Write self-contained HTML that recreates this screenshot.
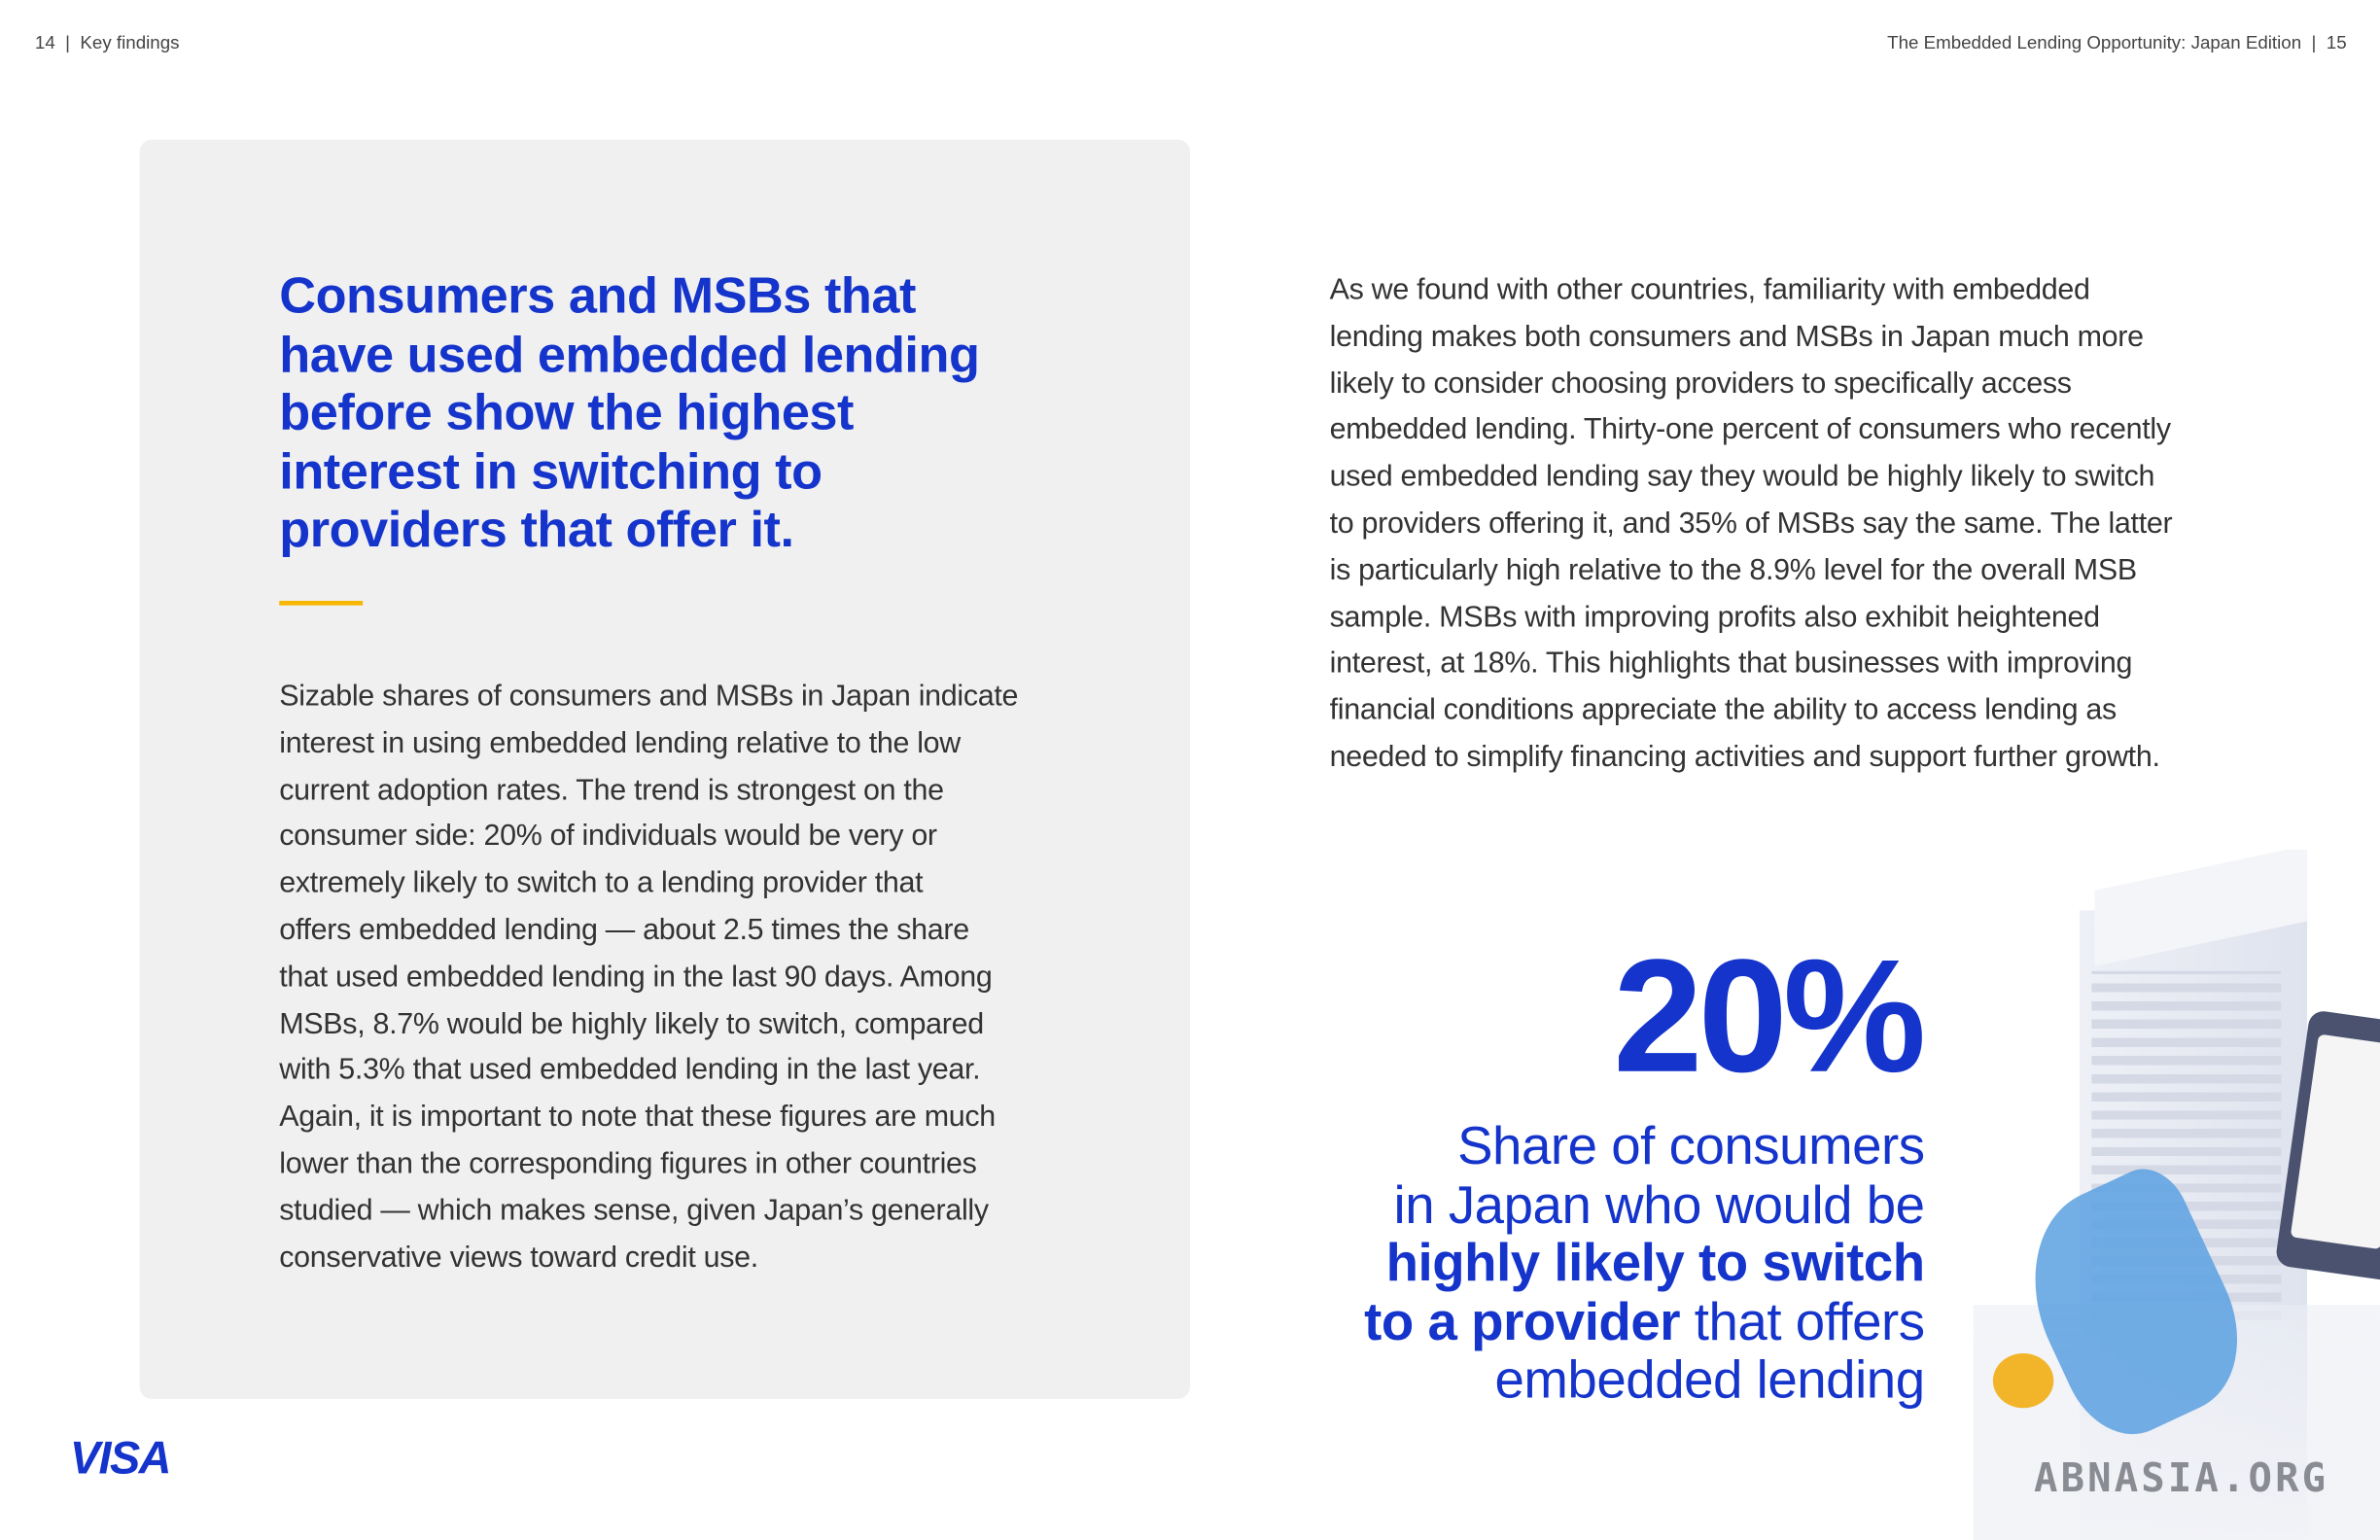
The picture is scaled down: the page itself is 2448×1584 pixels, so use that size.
<!DOCTYPE html>
<html><head><meta charset="utf-8">
<style>
html,body{margin:0;padding:0;background:#fff;overflow:hidden;width:2448px;height:1584px}
#page{position:absolute;left:0;top:0;width:1568px;height:1015px;transform-origin:0 0;transform:scale(1.56122,1.56059);font-family:"Liberation Sans",sans-serif;color:#333}
.abs{position:absolute}
.hdr{font-size:12px;color:#444;top:21px}
#box{left:92px;top:92px;width:692px;height:830px;background:#f0f0f1;border-radius:8px}
h1{position:absolute;left:184px;top:177px;margin:0;font-size:33.5px;line-height:38.6px;font-weight:bold;color:#1434cb;letter-spacing:-0.3px;white-space:nowrap}
.para{font-size:19.5px;line-height:30.8px;color:#333;letter-spacing:-0.2px;white-space:nowrap}
.big{right:302px;top:610px;font-size:106px;font-weight:bold;color:#1434cb;letter-spacing:-3px;line-height:120px}
.sub{right:300px;top:737px;font-size:35px;line-height:38.5px;color:#1434cb;text-align:right;letter-spacing:-0.3px}
.sub b{font-weight:bold}
</style></head><body>
<div id="page">
<div class="abs hdr" style="left:23px">14&nbsp;&nbsp;|&nbsp;&nbsp;Key findings</div>
<div class="abs hdr" style="right:22px">The Embedded Lending Opportunity: Japan Edition&nbsp;&nbsp;|&nbsp;&nbsp;15</div>

<div id="box" class="abs"></div>
<h1>Consumers and MSBs that<br>have used embedded lending<br>before show the highest<br>interest in switching to<br>providers that offer it.</h1>
<div class="abs" style="left:184px;top:396px;width:55px;height:3px;background:#f7b600"></div>
<div class="abs para" style="left:184px;top:444px">Sizable shares of consumers and MSBs in Japan indicate<br>interest in using embedded lending relative to the low<br>current adoption rates. The trend is strongest on the<br>consumer side: 20% of individuals would be very or<br>extremely likely to switch to a lending provider that<br>offers embedded lending — about 2.5 times the share<br>that used embedded lending in the last 90 days. Among<br>MSBs, 8.7% would be highly likely to switch, compared<br>with 5.3% that used embedded lending in the last year.<br>Again, it is important to note that these figures are much<br>lower than the corresponding figures in other countries<br>studied — which makes sense, given Japan’s generally<br>conservative views toward credit use.</div>

<div class="abs para" style="left:876px;top:176px">As we found with other countries, familiarity with embedded<br>lending makes both consumers and MSBs in Japan much more<br>likely to consider choosing providers to specifically access<br>embedded lending. Thirty-one percent of consumers who recently<br>used embedded lending say they would be highly likely to switch<br>to providers offering it, and 35% of MSBs say the same. The latter<br>is particularly high relative to the 8.9% level for the overall MSB<br>sample. MSBs with improving profits also exhibit heightened<br>interest, at 18%. This highlights that businesses with improving<br>financial conditions appreciate the ability to access lending as<br>needed to simplify financing activities and support further growth.</div>

<!-- illustration -->
<div class="abs" style="left:1300px;top:560px;width:268px;height:455px;overflow:hidden">
  <div class="abs" style="left:70px;top:40px;width:150px;height:420px;background:linear-gradient(90deg,#eef0f6,#dfe3ee)"></div>
  <div class="abs" style="left:80px;top:12px;width:140px;height:50px;background:#f4f5f9;transform:skewY(-12deg)"></div>
  <div class="abs" style="left:78px;top:80px;width:125px;height:230px;background:repeating-linear-gradient(0deg,#d5d9e6 0 6px,transparent 6px 12px)"></div>
  <div class="abs" style="left:210px;top:110px;width:80px;height:170px;background:#4a5270;border-radius:10px;transform:rotate(8deg)"></div>
  <div class="abs" style="left:218px;top:125px;width:60px;height:135px;background:#f5f5f5;border-radius:4px;transform:rotate(8deg)"></div>
  <div class="abs" style="left:0px;top:300px;width:268px;height:160px;background:linear-gradient(180deg,rgba(235,238,245,0.6),#f2f3f7)"></div>
  <div class="abs" style="left:45px;top:220px;width:120px;height:160px;background:#5aa0e0;border-radius:50% 20% 40% 30%;transform:rotate(-25deg);opacity:0.85"></div>
  <div class="abs" style="left:13px;top:332px;width:40px;height:36px;background:#f2b52a;border-radius:50%"></div>
</div>

<div class="abs big">20%</div>
<div class="abs sub">Share of consumers<br>in Japan who would be<br><b>highly likely to switch</b><br><b>to a provider</b> that offers<br>embedded lending</div>

<div class="abs" style="left:46px;top:945px;font-size:30px;font-weight:bold;font-style:italic;color:#1434cb;letter-spacing:-1px">VISA</div>
<div class="abs" style="left:1340px;top:960px;font-size:26px;font-weight:bold;color:#8a8c93;letter-spacing:2px;font-family:'DejaVu Sans Mono',monospace">ABNASIA.ORG</div>
</div>
</body></html>
